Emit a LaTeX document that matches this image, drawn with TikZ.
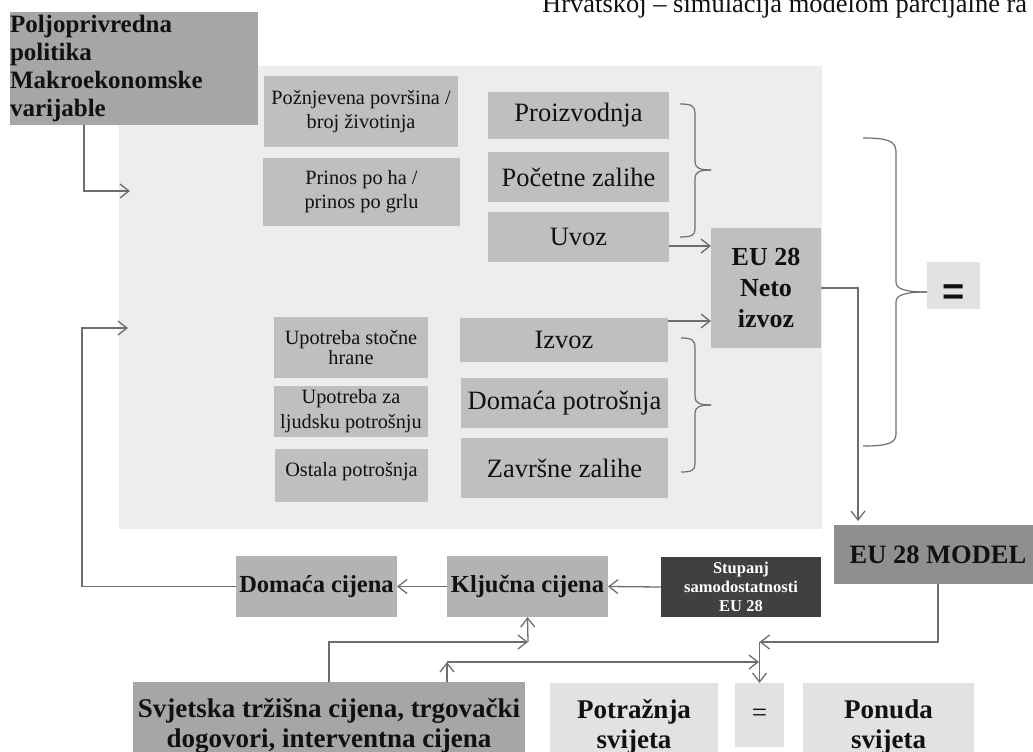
\documentclass[tikz,border=0pt]{standalone}
\usepackage{fontspec}
\setmainfont{Liberation Serif}
\newfontfamily\eqfont{Liberation Sans}
\usetikzlibrary{arrows.meta,calc}
\definecolor{cBg}{HTML}{EDEDED}
\definecolor{cMid}{HTML}{A6A6A6}
\definecolor{cBox}{HTML}{BFBFBF}
\definecolor{cPrice}{HTML}{B3B3B3}
\definecolor{cLight}{HTML}{E2E2E2}
\definecolor{cModel}{HTML}{8F8F8F}
\definecolor{cDark}{HTML}{404040}
\definecolor{cLine}{HTML}{6E6E6E}
\definecolor{cText}{HTML}{111111}
\begin{document}
\begin{tikzpicture}[x=1pt,y=-1pt,
  bx/.style={inner sep=0pt, outer sep=0pt, text=cText, align=center, anchor=center},
  fSmall/.style={font=\fontsize{20.3}{24}\selectfont},
  fMed/.style={font=\fontsize{26.5}{30}\selectfont},
  fBold/.style={font=\fontsize{24.5}{29}\selectfont\bfseries},
  fBig/.style={font=\fontsize{27}{30}\selectfont\bfseries},
  conn/.style={draw=cLine, line width=1.3pt},
  arr/.style={conn, -{Straight Barb[length=9pt,width=14pt,line width=1.3pt]}},
  brc/.style={draw=cLine, line width=1.2pt}]
\clip (0,0) rectangle (1033,752);
% header
\node[anchor=base west, inner sep=0pt, text=cText, fMed] (hdr) at (542,13) {Hrvatskoj – simulacija modelom parcijalne ra};
% background panel
\node[bx, fill=cBg, minimum width=703pt, minimum height=463pt] (panel) at (470.5,297.5) {};
% policy box
\node[bx, fill=cMid, minimum width=248pt, minimum height=113pt, text width=248pt, align=left,
      font=\fontsize{25}{27.7}\selectfont\bfseries] (pol) at (134,68.5) {Poljoprivredna\\politika\\Makroekonomske\\varijable};
% left small boxes
\node[bx, fill=cBox, fSmall, minimum width=194pt, minimum height=71pt] (pov) at (361,111.5) {Požnjevena površina /\\broj životinja};
\node[bx, fill=cBox, fSmall, minimum width=197pt, minimum height=68pt] (pri) at (361.5,192) {Prinos po ha /\\prinos po grlu};
\node[bx, fill=cBox, font=\fontsize{20.3}{20.5}\selectfont, minimum width=154pt, minimum height=61pt] (ups) at (351,347.5) {Upotreba stočne\\hrane};
\node[bx, fill=cBox, font=\fontsize{20.3}{25}\selectfont, minimum width=154pt, minimum height=51pt] (upl) at (351,411.5) {Upotreba za\\ljudsku potrošnju};
\node[bx, fill=cBox, fSmall, minimum width=153pt, minimum height=53pt, text depth=13pt] (ost) at (351.5,475.5) {Ostala potrošnja};
% right column boxes
\node[bx, fill=cBox, fMed, minimum width=181pt, minimum height=47pt] (pro) at (578.5,115.5) {Proizvodnja};
\node[bx, fill=cBox, fMed, minimum width=181pt, minimum height=50pt] (poc) at (578.5,177) {Početne zalihe};
\node[bx, fill=cBox, fMed, minimum width=181pt, minimum height=50pt] (uvo) at (578.5,237) {Uvoz};
\node[bx, fill=cBox, fMed, minimum width=208pt, minimum height=44pt] (izv) at (564,340) {Izvoz};
\node[bx, fill=cBox, fMed, minimum width=207pt, minimum height=50pt] (dop) at (564.5,403) {Domaća potrošnja};
\node[bx, fill=cBox, fMed, minimum width=207pt, minimum height=60pt] (zav) at (564.5,468) {Završne zalihe};
% EU net export
\node[bx, fill=cBox, font=\fontsize{26}{31}\selectfont\bfseries, minimum width=110pt, minimum height=120pt] (eu) at (766,288) {EU 28\\Neto\\izvoz};
% equals right
\node[bx, fill=cLight, font=\fontsize{38}{40}\eqfont\bfseries, minimum width=53pt, minimum height=47pt, text height=38pt, text depth=0pt] (eqr) at (953.5,285.5) {=};
% model
\node[bx, fill=cModel, font=\fontsize{26.5}{30}\selectfont\bfseries, minimum width=208pt, minimum height=59pt] (model) at (938,554.5) {EU 28 MODEL};
% self-sufficiency
\node[bx, fill=cDark, text=white, font=\fontsize{16.5}{19}\selectfont\bfseries, minimum width=160pt, minimum height=60pt] (stu) at (741,587) {Stupanj\\samodostatnosti\\EU 28};
% prices
\node[bx, fill=cPrice, fBold, minimum width=161pt, minimum height=61pt] (klj) at (527.5,586.5) {Ključna cijena};
\node[bx, fill=cPrice, fBold, minimum width=161pt, minimum height=61pt] (dom) at (316.5,586.5) {Domaća cijena};
% bottom row
\node[bx, fill=cMid, fBig, minimum width=392pt, minimum height=88pt] (svj) at (329,726) {Svjetska tržišna cijena, trgovački\\dogovori, interventna cijena};
\node[bx, fill=cLight, fBig, minimum width=168pt, minimum height=87pt] (pot) at (634,726.5) {Potražnja\\svijeta};
\node[bx, fill=cLight, font=\fontsize{27}{30}\selectfont, minimum width=49pt, minimum height=64pt] (eqb) at (759.5,715) {=};
\node[bx, fill=cLight, fBig, minimum width=171pt, minimum height=87pt] (pon) at (888.5,726.5) {Ponuda\\svijeta};
% coordinates
\coordinate (in1) at (130,191);
\coordinate (in2) at (128,328);
\coordinate (lp) at (82,328);
\coordinate (j1) at (528,642);
\coordinate (j2) at (447,662);
\coordinate (j3) at (759,662);
\coordinate (j4) at (759.5,642);
% connectors
\draw[arr] ([xshift=74pt]pol.south west) |- (in1);
\draw[arr] (dom.west) -| (lp) -- (in2);
\draw[arr] ([yshift=-9pt]uvo.east) -- ([yshift=-9pt]uvo.east -| eu.west);
\draw[arr] ([yshift=-3pt]izv.north east) -- ([yshift=-3pt]izv.north east -| eu.west);
\draw[arr, shorten >=4pt] (eu.east) -| ([xshift=24pt]model.north west);
\draw[arr] (stu.west) -- (klj.east);
\draw[arr] (klj.west) -- (dom.east);
\draw[arr] (svj.north) |- (j1);
\draw[arr] (j1) -- (klj.south);
\draw[arr] ([xshift=118pt]svj.north) -- (j2);
\draw[arr] (j2) -- (j3);
\draw[arr] (model.south) |- (j4);
\draw[arr] (j4) -- (eqb.north);
% braces
\draw[brc] (680,104) .. controls (692,104) and (695,106) .. (695,114) -- (695,162) .. controls (695,168) and (700,170) .. (711,170);
\draw[brc] (711,170) .. controls (700,170) and (695,172) .. (695,178) -- (695,229) .. controls (695,235) and (692,237) .. (680,237);
\draw[brc] (681,338) .. controls (692,338) and (695,340) .. (695,348) -- (695,397) .. controls (695,403) and (700,405) .. (711,405);
\draw[brc] (711,405) .. controls (700,405) and (695,407) .. (695,413) -- (695,464) .. controls (695,470) and (692,472) .. (681,472);
\draw[brc] (863,138) .. controls (888,138) and (896,141) .. (896,152) -- (896,282) .. controls (896,289) and (905,292) .. (927,292);
\draw[brc] (927,292) .. controls (905,292) and (896,295) .. (896,302) -- (896,434) .. controls (896,443) and (888,446) .. (863,446);
\end{tikzpicture}
\end{document}
